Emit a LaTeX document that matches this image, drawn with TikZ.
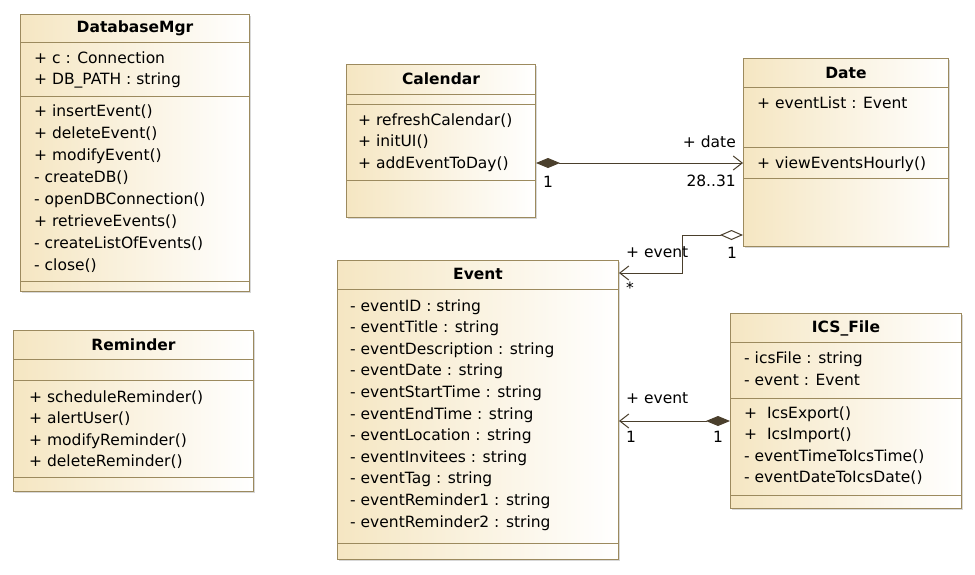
\documentclass[tikz,border=0pt]{standalone}
\usepackage{fontspec}
\setmainfont{DejaVu Sans}
\usetikzlibrary{arrows.meta,positioning,shadows}
\definecolor{classfill}{HTML}{F5E6C2}
\definecolor{classline}{HTML}{9C8A5E}
\definecolor{assoc}{HTML}{4A3F2C}
\newcommand{\umlsize}{\fontsize{15.5}{21.7}\selectfont}

\tikzset{
  classbox/.style={draw=classline, line width=1pt, left color=classfill, right color=white,
    inner sep=0pt, anchor=north west,
    drop shadow={shadow xshift=1.5pt, shadow yshift=-1.5pt, opacity=0.3}},
  divider/.style={draw=classline, line width=1pt},
  classname/.style={font=\umlsize\bfseries, anchor=base, inner sep=0pt},
  member/.style={anchor=base west, inner sep=0pt},
  multi/.style={anchor=base west, inner sep=0pt},
  compo/.style={draw=assoc, line width=1pt,
    {Diamond[length=24pt,width=10pt,fill=assoc]}-{Straight Barb[length=9pt,width=14pt]}},
  aggr/.style={draw=assoc, line width=1pt,
    {Diamond[open,length=23pt,width=10pt,fill=white]}-{Straight Barb[length=9pt,width=14pt]}}
}

\begin{document}
\begin{tikzpicture}[x=1pt, y=-1pt, font=\umlsize]
  \fill[white] (0,0) rectangle (975,574);
  \useasboundingbox (0,0) rectangle (975,574);

  % DatabaseMgr
  \node[classbox, minimum width=229pt, minimum height=277pt] (dbm) at (20,14) {};
  \node[classname] (dbmname) at (dbm.north |- 0,32) {DatabaseMgr};
  \draw[divider] (dbm.west |- 0,42) -- (dbm.east |- 0,42);
  \draw[divider] (dbm.west |- 0,96) -- (dbm.east |- 0,96);
  \draw[divider] (dbm.west |- 0,281) -- (dbm.east |- 0,281);
  \foreach \txt/\y [count=\i] in {{+ c : Connection}/63, {+ DB\_PATH : string}/84} {
    \node[member] (dbmattr\i) at (34,\y) {\txt};
  }
  \foreach \txt [count=\i] in {{+ insertEvent()}, {+ deleteEvent()}, {+ modifyEvent()},
      {- createDB()}, {- openDBConnection()}, {+ retrieveEvents()},
      {- createListOfEvents()}, {- close()}} {
    \node[member] (dbmop\i) at (34,{94+22*\i}) {\txt};
  }

  % Reminder
  \node[classbox, minimum width=240pt, minimum height=161pt] (rem) at (13,330) {};
  \node[classname] (remname) at (rem.north |- 0,350) {Reminder};
  \draw[divider] (rem.west |- 0,359) -- (rem.east |- 0,359);
  \draw[divider] (rem.west |- 0,380) -- (rem.east |- 0,380);
  \draw[divider] (rem.west |- 0,477) -- (rem.east |- 0,477);
  \foreach \txt [count=\i] in {{+ scheduleReminder()}, {+ alertUser()},
      {+ modifyReminder()}, {+ deleteReminder()}} {
    \node[member] (remop\i) at (29,{380.5+21.6*\i}) {\txt};
  }

  % Calendar
  \node[classbox, minimum width=189pt, minimum height=153pt] (cal) at (346,64) {};
  \node[classname] (calname) at (cal.north |- 0,84) {Calendar};
  \draw[divider] (cal.west |- 0,94) -- (cal.east |- 0,94);
  \draw[divider] (cal.west |- 0,104) -- (cal.east |- 0,104);
  \draw[divider] (cal.west |- 0,180) -- (cal.east |- 0,180);
  \foreach \txt [count=\i] in {{+ refreshCalendar()}, {+ initUI()}, {+ addEventToDay()}} {
    \node[member] (calop\i) at (358,{103.5+21.5*\i}) {\txt};
  }

  % Date
  \node[classbox, minimum width=205pt, minimum height=188pt] (date) at (743,58) {};
  \node[classname] (datename) at (date.north |- 0,78) {Date};
  \draw[divider] (date.west |- 0,87) -- (date.east |- 0,87);
  \draw[divider] (date.west |- 0,147) -- (date.east |- 0,147);
  \draw[divider] (date.west |- 0,178) -- (date.east |- 0,178);
  \node[member] (dateattr1) at (757,108) {+ eventList : Event};
  \node[member] (dateop1) at (757,168) {+ viewEventsHourly()};

  % Event
  \node[classbox, minimum width=281pt, minimum height=299pt] (event) at (337,260) {};
  \node[classname] (eventname) at (event.north |- 0,279) {Event};
  \draw[divider] (event.west |- 0,289) -- (event.east |- 0,289);
  \draw[divider] (event.west |- 0,543) -- (event.east |- 0,543);
  \foreach \txt [count=\i] in {eventID, eventTitle, eventDescription, eventDate,
      eventStartTime, eventEndTime, eventLocation, eventInvitees, eventTag,
      eventReminder1, eventReminder2} {
    \node[member] (eventattr\i) at (350,{289.4+21.6*\i}) {- \txt\ : string};
  }

  % ICS_File
  \node[classbox, minimum width=231pt, minimum height=195pt] (ics) at (730,313) {};
  \node[classname] (icsname) at (ics.north |- 0,332) {ICS\_File};
  \draw[divider] (ics.west |- 0,342) -- (ics.east |- 0,342);
  \draw[divider] (ics.west |- 0,398) -- (ics.east |- 0,398);
  \draw[divider] (ics.west |- 0,495) -- (ics.east |- 0,495);
  \foreach \txt/\y [count=\i] in {{- icsFile : string}/363, {- event : Event}/385} {
    \node[member] (icsattr\i) at (744,\y) {\txt};
  }
  \foreach \txt [count=\i] in {{+\ \ IcsExport()}, {+\ \ IcsImport()},
      {- eventTimeToIcsTime()}, {- eventDateToIcsDate()}} {
    \node[member] (icsop\i) at (744,{396.5+21.6*\i}) {\txt};
  }

  % associations
  \draw[compo] (cal.east |- 0,163) -- (date.west |- 0,163);
  \node[multi] (calmult) at (543,187) {1};
  \node[multi, anchor=base east] (daterole) at (736,147) {+ date};
  \node[multi, anchor=base east] (datemult) at (736,186) {28..31};

  \draw[aggr] (date.west |- 0,235) -| (682,273) -- (event.east |- 0,273);
  \node[multi] (dayrole) at (626,257) {+ event};
  \node[multi] (daymult) at (626,293) {*};
  \node[multi] (datemult2) at (727,258) {1};

  \draw[compo] (ics.west |- 0,421) -- (event.east |- 0,421);
  \node[multi] (icsrole) at (626,403) {+ event};
  \node[multi] (icsmult1) at (626,442) {1};
  \node[multi] (icsmult2) at (713,442) {1};
\end{tikzpicture}
\end{document}
